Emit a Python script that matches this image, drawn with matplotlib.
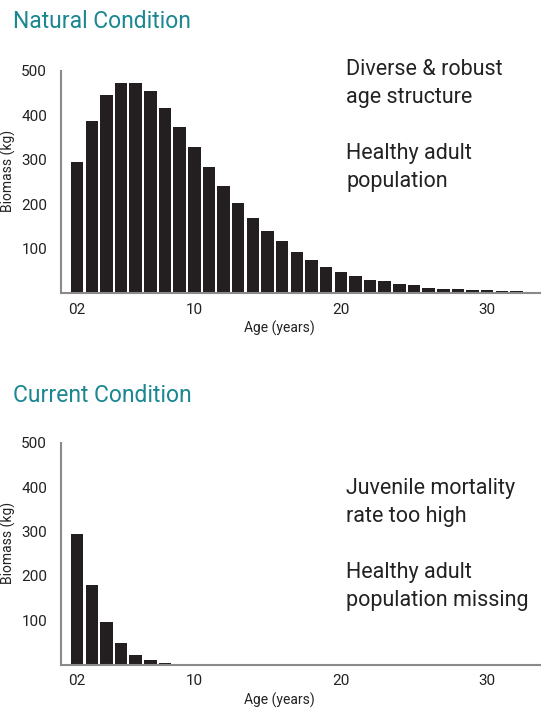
import matplotlib
matplotlib.use("Agg")
import matplotlib.pyplot as plt
import numpy as np

plt.rcParams['font.family'] = ['Roboto', 'DejaVu Sans']

ages = list(range(2, 34))
natural = [294, 387, 445, 474, 474, 454, 416, 373, 328, 283, 240, 202, 168, 139,
           116, 92, 74, 59, 47, 38, 30, 27, 20, 18, 11, 9, 9, 7, 7, 4.5, 4.5, 2.5]
current = [294, 180, 96, 49, 22, 10, 4, 1.5] + [0] * 24

xticks = [2, 10, 20, 30]
xtick_labels = ["02", "10", "20", "30"]
yticks = [100, 200, 300, 400, 500]

titles = ["Natural Condition", "Current Condition"]
notes = ["Diverse & robust\nage structure\n\nHealthy adult\npopulation",
         "Juvenile mortality\nrate too high\n\nHealthy adult\npopulation missing"]

W, H = 541, 709
fig = plt.figure(figsize=(W / 100, H / 100), dpi=100)

teal = "#1b8790"
bar_color = "#231f20"
spine_color = "#8a8a8a"
text_color = "#222222"

panels = [
    dict(data=natural, ax_top=71, ax_bot=293, title_y=21, note_y=59),
    dict(data=current, ax_top=443, ax_bot=664.5, title_y=396, note_y=478),
]

for i, p in enumerate(panels):
    left = 61 / W
    bottom = 1 - p['ax_bot'] / H
    ax_h_px = p['ax_bot'] - p['ax_top']
    height = ax_h_px / H
    ax = fig.add_axes([left, bottom, 1 - left, height])
    ax.bar(ages, p['data'], width=0.85, color=bar_color, zorder=2)
    ax.set_xlim(0.9, 33.67)
    ax.set_ylim(0, 500)
    ax.set_xticks(xticks)
    ax.set_xticklabels(xtick_labels)
    ax.set_yticks(yticks)
    ax.tick_params(axis='both', length=0, labelsize=11, colors=text_color)
    ax.tick_params(axis='y', pad=10)
    ax.tick_params(axis='x', pad=7)
    for s in ['top', 'right']:
        ax.spines[s].set_visible(False)
    for s in ['left', 'bottom']:
        ax.spines[s].set_color(spine_color)
        ax.spines[s].set_linewidth(1.5)
    ax.set_ylabel("Biomass (kg)", fontsize=10, color=text_color)
    ax.yaxis.set_label_coords(-45 / (W - 61), 0.55)
    ax.set_xlabel("Age (years)", fontsize=10, color=text_color)
    ax.xaxis.set_label_coords((279 - 61) / (W - 61), -28 / ax_h_px)
    fig.text(13 / W, 1 - p['title_y'] / H, titles[i], fontsize=16.5, color=teal,
             ha='left', va='center')
    fig.text(346 / W, 1 - p['note_y'] / H, notes[i], fontsize=15.5, color=text_color,
             ha='left', va='top', linespacing=1.44)

fig.savefig("out.png", dpi=100)
